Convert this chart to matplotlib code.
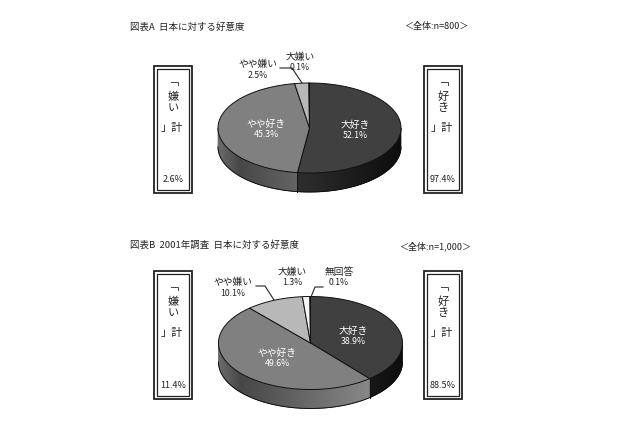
import numpy as np
import matplotlib
matplotlib.use('Agg')
import matplotlib.pyplot as plt
from matplotlib.patches import Polygon, Rectangle

plt.rcParams['font.family'] = ['Noto Sans CJK JP', 'DejaVu Sans']

# data, clockwise from 12 o'clock
labels_a = ['大好き', 'やや好き', 'やや嫌い', '大嫌い']
values_a = [52.1, 45.3, 2.5, 0.1]
labels_b = ['大好き', 'やや好き', 'やや嫌い', '大嫌い', '無回答']
values_b = [38.9, 49.6, 10.1, 1.3, 0.1]
dislike_a, like_a = '2.6%', '97.4%'
dislike_b, like_b = '11.4%', '88.5%'
title_a = '図表A  日本に対する好意度'
title_b = '図表B  2001年調査  日本に対する好意度'
total_a = '＜全体:n=800＞'
total_b = '＜全体:n=1,000＞'

top_colors = ['#404040', '#808080', '#b8b8b8', '#f4f4f4', '#303030']
# grey level of the side wall across the pie width
mid_pos, mid_grey = [0, 0.13, 0.8, 1], [0.44, 0.28, 0.53, 0.53]
dark_pos, dark_grey = [0.4, 1], [0.19, 0.05]
ink = '#222222'


def draw_pie(ax, values, cx, cy, rx, ry, depth):
    edges = np.concatenate([[0], np.cumsum(values)]) / np.sum(values) * 2 * np.pi
    frac = np.linspace(0, 1, 256)
    # a little wider than the pie so the clip never hits the image edge
    extent = (cx - rx - 3, cx + rx + 3, cy + ry + depth + 3, cy - ry - 3)

    # side wall first, only the part facing us
    for i, (a0, a1) in enumerate(zip(edges[:-1], edges[1:])):
        lo, hi = max(a0, np.pi / 2), min(a1, 3 * np.pi / 2)
        if hi <= lo:
            continue
        if i == 0:
            grad = np.interp(frac, dark_pos, dark_grey)
            base = '#141414'
        else:
            grad = np.interp(frac, mid_pos, mid_grey)
            base = '#606060'
        t = np.linspace(lo, hi, 100)
        x, y = cx + rx * np.sin(t), cy - ry * np.cos(t)
        wall = Polygon(list(zip(x, y)) + list(zip(x[::-1], y[::-1] + depth)),
                       fc=base, ec=base, lw=0.5, transform=ax.transData, zorder=1)
        ax.add_patch(wall)
        im = ax.imshow(grad[None, :], extent=extent, cmap='gray', vmin=0, vmax=1,
                       aspect='auto', zorder=1)
        im.set_clip_path(wall)

    # outline of the wall
    t = np.linspace(np.pi / 2, 3 * np.pi / 2, 200)
    ax.plot(cx + rx * np.sin(t), cy - ry * np.cos(t) + depth, color='#111111', lw=0.7, zorder=2)
    x = cx + rx * np.sin(edges[1])
    y = cy - ry * np.cos(edges[1])
    ax.plot([x, x], [y, y + depth], color='#111111', lw=0.7, zorder=2)

    # top surface
    for i, (a0, a1) in enumerate(zip(edges[:-1], edges[1:])):
        t = np.linspace(a0, a1, max(2, int((a1 - a0) * 60)))
        pts = [(cx, cy)] + list(zip(cx + rx * np.sin(t), cy - ry * np.cos(t)))
        ax.add_patch(Polygon(pts, fc=top_colors[i], ec='#111111', lw=0.7,
                             joinstyle='round', zorder=3))


def draw_box(ax, x, y, w, h, chars, pct):
    ax.add_patch(Rectangle((x, y), w, h, fc='white', ec=ink, lw=1.3))
    ax.add_patch(Rectangle((x + 3, y + 3), w - 6, h - 6, fc='white', ec=ink, lw=0.9))
    mid = x + w / 2
    ax.text(mid, y + 16, '﹁', ha='center', va='center', fontsize=8, color=ink)
    ax.text(mid, y + 31, chars[0], ha='center', va='center', fontsize=8, color=ink)
    ax.text(mid, y + 42, chars[1], ha='center', va='center', fontsize=8, color=ink)
    ax.text(mid - 1, y + 62, '」計', ha='center', va='center', fontsize=8, color=ink)
    ax.text(mid, y + h - 13, pct, ha='center', va='center', fontsize=6.5, color=ink)


def label(ax, x, y, name, val, color=ink):
    ax.text(x, y - 5.5, name, ha='center', va='center', fontsize=7, color=color, zorder=5)
    ax.text(x, y + 5.5, val, ha='center', va='center', fontsize=6.3, color=color, zorder=5)


fig = plt.figure(figsize=(6.4, 4.26), dpi=100)
ax = fig.add_axes([0, 0, 1, 1])

# chart A
ax.text(130, 27, title_a, fontsize=6.8, ha='left', va='center', color=ink)
ax.text(468, 27, total_a, fontsize=6.5, ha='right', va='center', color=ink)
draw_box(ax, 154, 66, 38, 127, '嫌い', dislike_a)
draw_box(ax, 424, 66, 38, 127, '好き', like_a)
draw_pie(ax, values_a, 309.5, 128, 91.5, 45, 19)
ax.plot([280, 292, 302], [68, 68, 83], color=ink, lw=0.8)
label(ax, 300, 62.5, labels_a[3], f'{values_a[3]}%')
label(ax, 258, 69.5, labels_a[2], f'{values_a[2]}%')
label(ax, 266, 129, labels_a[1], f'{values_a[1]}%', 'white')
label(ax, 355, 130.5, labels_a[0], f'{values_a[0]}%', 'white')

# chart B
ax.text(130, 245, title_b, fontsize=6.8, ha='left', va='center', color=ink)
ax.text(471, 246, total_b, fontsize=6.5, ha='right', va='center', color=ink)
draw_box(ax, 154, 271, 38, 128, '嫌い', dislike_b)
draw_box(ax, 424, 271, 38, 128, '好き', like_b)
draw_pie(ax, values_b, 310.5, 343, 92, 46.5, 19)
ax.plot([256, 265, 274], [286, 286, 300], color=ink, lw=0.8)
ax.plot([323, 315, 311], [287, 287, 297], color=ink, lw=0.8)
label(ax, 292, 277, labels_b[3], f'{values_b[3]}%')
label(ax, 339, 277, labels_b[4], f'{values_b[4]}%')
label(ax, 233, 287.5, labels_b[2], f'{values_b[2]}%')
label(ax, 277, 358, labels_b[1], f'{values_b[1]}%', 'white')
label(ax, 353, 336.5, labels_b[0], f'{values_b[0]}%', 'white')

ax.set_xlim(0, 640)
ax.set_ylim(426, 0)
ax.axis('off')

fig.savefig('out.png', dpi=100)
